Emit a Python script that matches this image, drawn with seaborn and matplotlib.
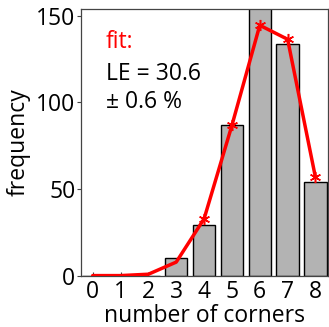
import matplotlib
matplotlib.use("Agg")
import matplotlib.pyplot as plt
import seaborn as sns
import numpy as np
import pandas as pd

corners = [0, 1, 2, 3, 4, 5, 6, 7, 8]
frequency = [0, 0, 0, 10, 29, 87, 160, 134, 54]
fit_values = [0, 0, 0.8, 7.8, 32.8, 86.8, 144.6, 136.5, 56.7]
marker_idx = [4, 5, 6, 7, 8]
yticks = [0, 50, 100, 150]
annot_fit = "fit:"
annot_le = "LE = 30.6"
annot_err = "± 0.6 %"

sns.set_style("ticks")
plt.rcParams['font.family'] = ['Open Sans', 'DejaVu Sans']
plt.rcParams['text.color'] = 'black'
plt.rcParams['axes.labelcolor'] = 'black'
plt.rcParams['xtick.labelcolor'] = 'black'
plt.rcParams['ytick.labelcolor'] = 'black'

FS = 16.5
fig = plt.figure(figsize=(3.29, 3.27), dpi=100)
ax = fig.add_axes([81/329, 1-275.6/327, 247/329, 266.6/327])

df = pd.DataFrame({"corners": corners, "frequency": frequency})
ax.bar(df["corners"], df["frequency"], width=0.8, color="#b3b3b3",
       edgecolor="black", linewidth=1.0, zorder=2)
sns.lineplot(x=corners, y=fit_values, ax=ax, color="red", linewidth=2.5,
             marker=(6, 2, 0), markersize=8, markevery=marker_idx,
             markeredgecolor="red", markeredgewidth=1.1, zorder=3)

ax.set_xlim(-0.42, 8.45)
ax.set_ylim(0, 154)
ax.set_xticks(corners)
ax.set_yticks(yticks)
ax.tick_params(axis='x', direction='in', length=3, labelsize=FS, pad=3, color='#444444')
ax.tick_params(axis='y', direction='out', length=3, labelsize=FS, pad=1, color='#444444')
for s in ax.spines.values():
    s.set_visible(True)
    s.set_color('#444444')
    s.set_linewidth(0.9)
ax.set_xlabel("number of corners", fontsize=FS, labelpad=0)
ax.set_ylabel("frequency", fontsize=FS, labelpad=4)

ax.text(0.47, 131.3, annot_fit, color="red", fontsize=FS, va="baseline", ha="left")
ax.text(0.47, 112.9, annot_le, color="black", fontsize=FS, va="baseline", ha="left")
ax.text(0.47, 96.6, annot_err, color="black", fontsize=FS, va="baseline", ha="left")

fig.savefig("out.png", dpi=100)
